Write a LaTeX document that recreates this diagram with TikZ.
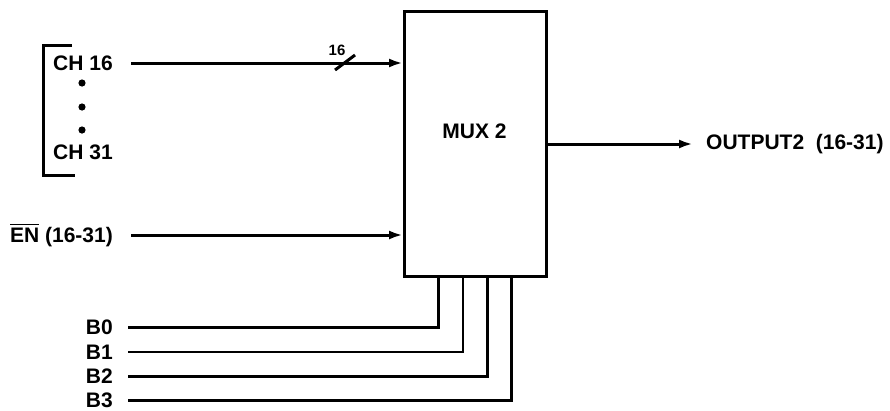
\documentclass[tikz,border=0pt]{standalone}
\usepackage{fontspec}
\setmainfont{Liberation Sans}
\usetikzlibrary{arrows.meta}
\newcommand\barEN{\leavevmode\setbox0=\hbox{EN}\rlap{\rule[0.8em]{\wd0}{1.6pt}}\box0}
\begin{document}
\begin{tikzpicture}[x=1pt,y=-1pt,
  lbl/.style={font=\bfseries\fontsize{21}{24}\selectfont, inner sep=0pt},
  wire/.style={line width=3pt},
  thinwire/.style={line width=2pt},
  arr/.style={wire,-{Latex[length=14pt,width=9pt]}}]
\useasboundingbox (0,0) rectangle (890,410);
% box
\node[draw, line width=2.8pt, minimum width=142pt, minimum height=265pt, inner sep=0pt, anchor=north west] (mux) at (403,10) {};
\node[lbl] (muxl) at (474.5,131) {MUX 2};
% inputs
\node[lbl, anchor=west] (ch16) at (53,63) {CH 16};
\node[lbl, anchor=west] (ch31) at (53,152) {CH 31};
\fill (82,83) circle (3.6pt) (82,107) circle (3.6pt) (82,130) circle (3.6pt);
\draw[wire] (72,45) -- (43,45) -- (43,175) -- (75,175);
\coordinate (chs) at (131,63);
\coordinate (chin) at (403,63);
\draw[arr] (chs) -- (chin);
\draw[wire] (335,70) -- (355,55);
\node[font=\bfseries\fontsize{15}{17}\selectfont, inner sep=0pt] (n16) at (337,50) {16};
\node[lbl, anchor=east] (en) at (113,235) {\barEN\ (16-31)};
\coordinate (ens) at (131,235);
\coordinate (enin) at (403,235);
\draw[arr] (ens) -- (enin);
% output
\node[lbl, anchor=west] (out) at (706,144) {OUTPUT2\ \ (16-31)};
\coordinate (outs) at (545,144);
\coordinate (oute) at (693,144);
\draw[arr] (outs) -- (oute);
% select lines
\node[lbl, anchor=east] (b0) at (113,327) {B0};
\node[lbl, anchor=east] (b1) at (113,352) {B1};
\node[lbl, anchor=east] (b2) at (113,376) {B2};
\node[lbl, anchor=east] (b3) at (113,400) {B3};
\draw[wire] (128,327) -- (438,327) -- (438,275);
\draw[thinwire] (128,352) -- (463,352) -- (463,275);
\draw[wire] (128,376) -- (487,376) -- (487,275);
\draw[wire] (128,400) -- (511,400) -- (511,275);
\end{tikzpicture}
\end{document}
